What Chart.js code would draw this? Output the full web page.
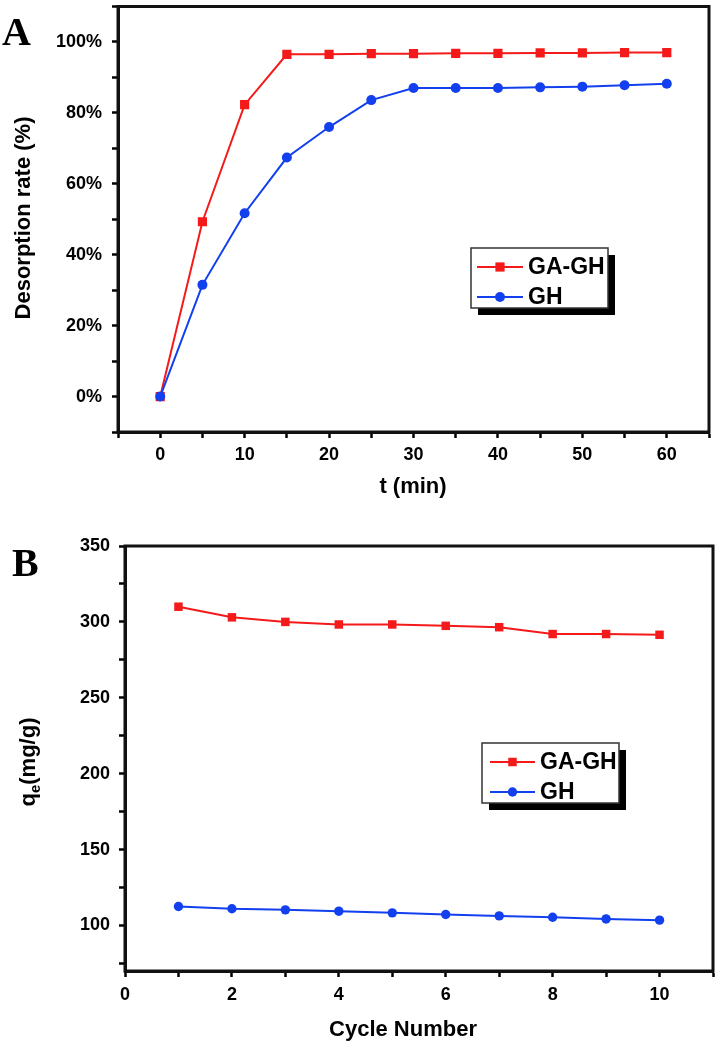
<!DOCTYPE html>
<html>
<head>
<meta charset="utf-8">
<script src="https://cdn.jsdelivr.net/npm/chart.js@4.4.1/dist/chart.umd.min.js"></script>
<style>
  html, body { margin: 0; padding: 0; background: #fff; }
  .panel { position: absolute; left: 0; width: 719px; }
  #panelA { top: 0; height: 500px; }
  #panelB { top: 500px; height: 548px; }
</style>
</head>
<body>
<div class="panel" id="panelA"><canvas id="chartA"></canvas></div>
<div class="panel" id="panelB"><canvas id="chartB"></canvas></div>
<script>
// panel A - desorption rate vs time
const timeMin = [0, 5, 10, 15, 20, 25, 30, 35, 40, 45, 50, 55, 60];
const gaghDesorption = [0, 49.3, 82.3, 96.5, 96.5, 96.7, 96.7, 96.8, 96.8, 96.9, 96.9, 97.0, 97.0];
const ghDesorption = [0, 31.5, 51.7, 67.4, 76.0, 83.6, 87.0, 87.0, 87.0, 87.2, 87.4, 87.8, 88.2];
const timeTicks = [0, 10, 20, 30, 40, 50, 60];
const percentTicks = [0, 20, 40, 60, 80, 100];

// panel B - adsorption capacity over reuse cycles
const cycleNumber = [1, 2, 3, 4, 5, 6, 7, 8, 9, 10];
const gaghCapacity = [310, 303, 300, 298.3, 298.3, 297.4, 296.5, 292, 292, 291.5];
const ghCapacity = [112.5, 111, 110.3, 109.4, 108.3, 107.2, 106.3, 105.4, 104.3, 103.5];
const cycleTicks = [0, 2, 4, 6, 8, 10];
const capacityTicks = [100, 150, 200, 250, 300, 350];

const seriesNames = ['GA-GH', 'GH'];

const FONT = "'Liberation Sans', Arial, sans-serif";
const RED = '#f51a1a';
const BLUE = '#1240ee';

const toPoints = (xs, ys) => xs.map((x, i) => ({ x: x, y: ys[i] }));

// draws the box frame, panel letter, axis titles and the shadowed legend
const decor = {
  id: 'decor',
  afterDraw(chart, args, o) {
    const { ctx, chartArea: a } = chart;
    ctx.save();
    ctx.lineWidth = 3;
    ctx.strokeStyle = '#111';
    ctx.strokeRect(a.left, a.top, a.right - a.left, a.bottom - a.top);

    // panel letter
    ctx.fillStyle = '#000';
    ctx.font = "bold 40px 'Liberation Serif', 'Times New Roman', serif";
    ctx.textBaseline = 'alphabetic';
    ctx.textAlign = 'left';
    ctx.fillText(o.letter.text, o.letter.x, o.letter.y);

    // x title
    ctx.font = 'bold 22px ' + FONT;
    ctx.textAlign = 'center';
    ctx.textBaseline = 'middle';
    ctx.fillText(o.xTitle.text, o.xTitle.x, o.xTitle.y);

    // y title (parts allow a subscript)
    ctx.save();
    ctx.translate(o.yTitle.x, o.yTitle.y);
    ctx.rotate(-Math.PI / 2);
    ctx.textAlign = 'left';
    let total = 0;
    o.yTitle.parts.forEach(p => {
      ctx.font = 'bold ' + (p.sub ? 15 : 22) + 'px ' + FONT;
      p.w = ctx.measureText(p.text).width;
      total += p.w;
    });
    let px = -total / 2;
    o.yTitle.parts.forEach(p => {
      ctx.font = 'bold ' + (p.sub ? 15 : 22) + 'px ' + FONT;
      ctx.fillText(p.text, px, p.sub ? 7 : 0);
      px += p.w;
    });
    ctx.restore();

    // legend
    const lg = o.legend;
    ctx.fillStyle = '#000';
    ctx.fillRect(lg.left + 7, lg.top + 7, lg.width, lg.height);
    ctx.fillStyle = '#fff';
    ctx.fillRect(lg.left, lg.top, lg.width, lg.height);
    ctx.lineWidth = 1.5;
    ctx.strokeStyle = '#333';
    ctx.strokeRect(lg.left, lg.top, lg.width, lg.height);
    chart.data.datasets.forEach((ds, i) => {
      const y = lg.top + lg.firstRow + i * lg.rowGap;
      ctx.strokeStyle = ds.borderColor;
      ctx.lineWidth = ds.borderWidth;
      ctx.beginPath();
      ctx.moveTo(lg.left + lg.lineStart, y);
      ctx.lineTo(lg.left + lg.lineEnd, y);
      ctx.stroke();
      ctx.fillStyle = ds.backgroundColor;
      Chart.helpers.drawPoint(ctx, { pointStyle: ds.pointStyle, radius: ds.pointRadius, borderWidth: 0, rotation: 0 },
        lg.left + (lg.lineStart + lg.lineEnd) / 2, y);
      ctx.fillStyle = '#000';
      ctx.font = 'bold 23px ' + FONT;
      ctx.textAlign = 'left';
      ctx.textBaseline = 'middle';
      ctx.fillText(ds.label, lg.left + lg.textX, y + 1);
    });
    ctx.restore();
  }
};

function axisStyle(min, max, step, labelFn, pad) {
  return {
    type: 'linear',
    min: min,
    max: max,
    ticks: {
      stepSize: step,
      autoSkip: false,
      maxRotation: 0,
      includeBounds: false,
      padding: pad,
      color: '#000',
      font: { family: FONT, size: 18, weight: 'bold' },
      callback: labelFn
    },
    grid: { drawOnChartArea: false, drawTicks: true, tickLength: 6, tickWidth: 2.5, tickColor: '#000' },
    border: { display: true, width: 3, color: '#111' }
  };
}

// fixed axis box sizes so the plot area lands where the figure has it
function fixX(h) {
  return s => { s.height = h; s.paddingLeft = 0; s.paddingRight = 0; };
}
function fixY(w) {
  return s => { s.width = w; s.paddingTop = 0; s.paddingBottom = 0; };
}

function lineSet(label, pts, color, style, radius, order) {
  return {
    label: label,
    data: pts,
    borderColor: color,
    backgroundColor: color,
    borderWidth: 2,
    pointStyle: style,
    pointRadius: radius,
    pointBorderWidth: 0,
    pointBackgroundColor: color,
    tension: 0,
    order: order
  };
}

// ---- chart A
const xA = axisStyle(-5, 65, 5, v => timeTicks.includes(v) ? String(v) : '', 6);
xA.afterFit = fixX(68);
const yA = axisStyle(-10, 110, 10, v => percentTicks.includes(v) ? v + '%' : '', 10);
yA.afterFit = fixY(118);

new Chart(document.getElementById('chartA'), {
  type: 'line',
  data: {
    datasets: [
      lineSet(seriesNames[0], toPoints(timeMin, gaghDesorption), RED, 'rect', 6.5, 1),
      lineSet(seriesNames[1], toPoints(timeMin, ghDesorption), BLUE, 'circle', 5, 0)
    ]
  },
  options: {
    responsive: true,
    maintainAspectRatio: false,
    animation: false,
    layout: { padding: { top: 4, right: 10, left: 0, bottom: 0 } },
    scales: { x: xA, y: yA },
    plugins: {
      legend: { display: false },
      tooltip: { enabled: false },
      decor: {
        letter: { text: 'A', x: 2, y: 45 },
        xTitle: { text: 't (min)', x: 413, y: 487 },
        yTitle: { x: 24, y: 218, parts: [{ text: 'Desorption rate (%)' }] },
        legend: { left: 471, top: 248, width: 137, height: 60, firstRow: 19, rowGap: 30, lineStart: 6, lineEnd: 52, textX: 57 }
      }
    }
  },
  plugins: [decor]
});

// ---- chart B
const xB = axisStyle(0, 11, 1, v => cycleTicks.includes(v) ? String(v) : '', 7);
xB.afterFit = fixX(77);
const yB = axisStyle(70, 350, 25, v => capacityTicks.includes(v) ? String(v) : '', 9);
yB.afterFit = fixY(125);

new Chart(document.getElementById('chartB'), {
  type: 'line',
  data: {
    datasets: [
      lineSet(seriesNames[0], toPoints(cycleNumber, gaghCapacity), RED, 'rect', 6, 1),
      lineSet(seriesNames[1], toPoints(cycleNumber, ghCapacity), BLUE, 'circle', 4.7, 0)
    ]
  },
  options: {
    responsive: true,
    maintainAspectRatio: false,
    animation: false,
    layout: { padding: { top: 46, right: 6, left: 0, bottom: 0 } },
    scales: { x: xB, y: yB },
    plugins: {
      legend: { display: false },
      tooltip: { enabled: false },
      decor: {
        letter: { text: 'B', x: 12, y: 76 },
        xTitle: { text: 'Cycle Number', x: 403, y: 530 },
        yTitle: { x: 29, y: 262, parts: [{ text: 'q' }, { text: 'e', sub: true }, { text: '(mg/g)' }] },
        legend: { left: 482, top: 243, width: 137, height: 60, firstRow: 19, rowGap: 30, lineStart: 8, lineEnd: 53, textX: 58 }
      }
    }
  },
  plugins: [decor]
});
</script>
</body>
</html>
